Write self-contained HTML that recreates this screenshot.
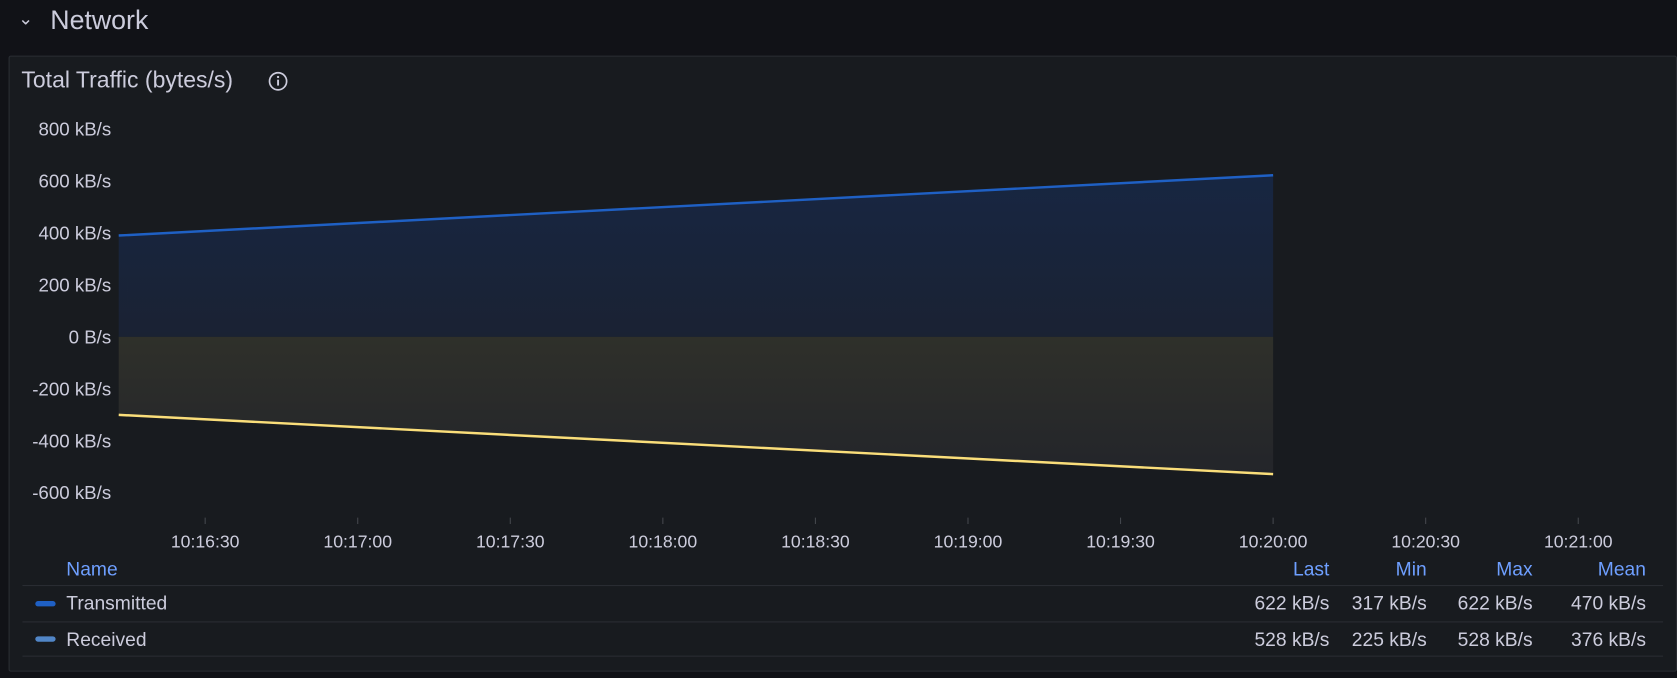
<!DOCTYPE html>
<html><head><meta charset="utf-8"><style>
body{margin:0;width:1677px;height:678px;background:#111217;font-family:"Liberation Sans",sans-serif;overflow:hidden;position:relative;color:#ccccdc}
#wrap{position:absolute;left:0;top:0;width:1568px;height:634px;transform:scale(1.0695);transform-origin:0 0}
.abs{position:absolute}
</style></head><body>
<div id="wrap">
<div class="abs" style="left:17px;top:8px;font-size:17px;color:#ccccdc">⌄</div>
<div class="abs" style="left:47px;top:5px;font-size:25px;color:#ccccdc">Network</div>
<div class="abs" style="left:8px;top:52px;width:1558px;height:574px;background:#181b1f;border:1px solid #2a2d33;border-radius:2px"></div>
<div class="abs" style="left:20px;top:63px;font-size:21.5px;color:#ccccdc">Total Traffic (bytes/s)</div>
<svg class="abs" style="left:250px;top:66px" width="20" height="20"><circle cx="10" cy="10" r="8" fill="none" stroke="#ccccdc" stroke-width="1.6"/><rect x="9.1" y="8.5" width="1.8" height="5.5" fill="#ccccdc"/><circle cx="10" cy="6" r="1.1" fill="#ccccdc"/></svg>
<svg id="chart" class="abs" style="left:0;top:0" width="1568" height="520"></svg>
<div class="abs" style="left:21px;top:518px;width:1534px;font-size:18px">
<div style="position:absolute;left:41px;top:4px;color:#6e9fff">Name</div>
<div style="position:absolute;right:312px;top:4px;color:#6e9fff">Last</div>
<div style="position:absolute;right:221px;top:4px;color:#6e9fff">Min</div>
<div style="position:absolute;right:122px;top:4px;color:#6e9fff">Max</div>
<div style="position:absolute;right:16px;top:4px;color:#6e9fff">Mean</div>
<div style="position:absolute;left:0;top:29px;width:1534px;border-top:1px solid #2a2d33"></div>
<div style="position:absolute;left:0;top:63px;width:1534px;border-top:1px solid #2a2d33"></div>
<div style="position:absolute;left:0;top:95px;width:1534px;border-top:1px solid #2a2d33"></div>
<div style="position:absolute;left:0;top:30px;width:1534px;height:33px;line-height:33px">
<span style="position:absolute;left:12px;top:14px;width:19px;height:5px;border-radius:3px;background:#1f60c4"></span>
<span style="position:absolute;left:41px">Transmitted</span>
<span style="position:absolute;right:312px">622 kB/s</span><span style="position:absolute;right:221px">317 kB/s</span><span style="position:absolute;right:122px">622 kB/s</span><span style="position:absolute;right:16px">470 kB/s</span></div>
<div style="position:absolute;left:0;top:64px;width:1534px;height:32px;line-height:32px">
<span style="position:absolute;left:12px;top:13px;width:19px;height:5px;border-radius:3px;background:#5186c7"></span>
<span style="position:absolute;left:41px">Received</span>
<span style="position:absolute;right:312px">528 kB/s</span><span style="position:absolute;right:221px">225 kB/s</span><span style="position:absolute;right:122px">528 kB/s</span><span style="position:absolute;right:16px">376 kB/s</span></div>
</div>
</div>
<script>
const times=[0,227]; // seconds from 10:16:13 (start to 10:20:00)
const transmitted=[390,622];
const received=[-300,-528];
const yTicks=[800,600,400,200,0,-200,-400,-600];
const xTickLabels=["10:16:30","10:17:00","10:17:30","10:18:00","10:18:30","10:19:00","10:19:30","10:20:00","10:20:30","10:21:00"];
const xTickSecs=[17,47,77,107,137,167,197,227,257,287];
const NS="http://www.w3.org/2000/svg";
const svg=document.getElementById('chart');
const x=s=>111+s*(142.65/30);
const y=v=>315-v*(48.6/200);
function mk(t,a){const e=document.createElementNS(NS,t);for(const k in a)e.setAttribute(k,a[k]);svg.appendChild(e);return e;}
const defs=mk('defs',{});
defs.innerHTML='<linearGradient id="gb" x1="0" y1="0" x2="0" y2="1"><stop offset="0" stop-color="#172642"/><stop offset="1" stop-color="#1a2233"/></linearGradient><linearGradient id="gy" x1="0" y1="0" x2="0" y2="1"><stop offset="0" stop-color="#2f302a"/><stop offset="1" stop-color="#23252a"/></linearGradient>';
yTicks.forEach(v=>{const t=mk('text',{x:104,y:y(v)+6,'text-anchor':'end','font-size':17.5,fill:'#ccccdc'});t.textContent=v===0?'0 B/s':v+' kB/s';

});
xTickLabels.forEach((l,i)=>{const xx=x(xTickSecs[i]);
const tk=mk('line',{x1:xx,x2:xx,y1:484,y2:490,stroke:'#44474d'});


const t=mk('text',{x:xx,y:512,'text-anchor':'middle','font-size':16.5,fill:'#ccccdc'});t.textContent=l;

});
function series(vals,fill,stroke,name){
let d='M'+x(times[0])+','+y(0);times.forEach((s,i)=>d+=' L'+x(s)+','+y(vals[i]));d+=' L'+x(times[times.length-1])+','+y(0)+'Z';
const a=mk('path',{d:d,fill:fill});


const l=mk('polyline',{points:times.map((s,i)=>x(s)+','+y(vals[i])).join(' '),fill:'none',stroke:stroke,'stroke-width':2.3});

}
series(transmitted,'url(#gb)','#1f60c4','transmitted');
series(received,'url(#gy)','#fade7a','received');
</script>
</body></html>
